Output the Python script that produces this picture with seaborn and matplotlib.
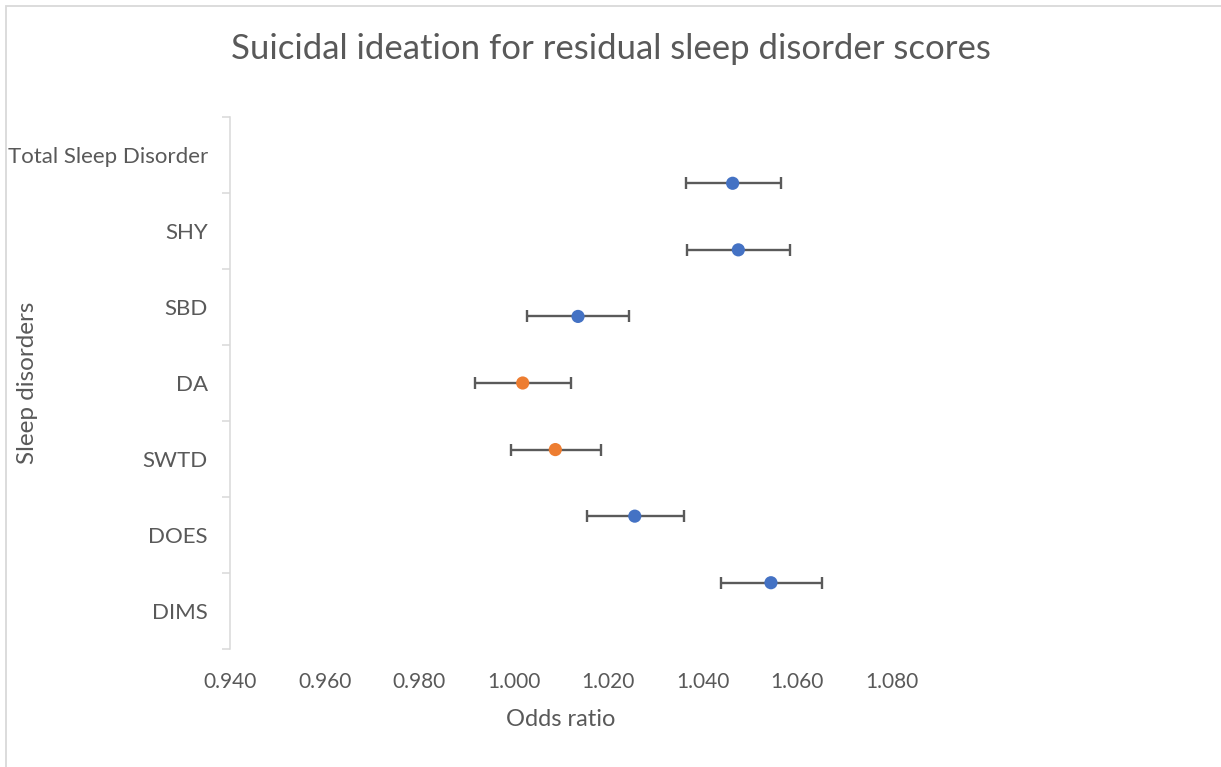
import numpy as np
import pandas as pd
import matplotlib
matplotlib.use("Agg")
import matplotlib.pyplot as plt
import seaborn as sns
from matplotlib.patches import Rectangle

# ---------------- data ----------------
categories = ["Total Sleep Disorder", "SHY", "SBD", "DA", "SWTD", "DOES", "DIMS"]
odds_ratio = [1.0463, 1.0475, 1.0136, 1.0019, 1.0088, 1.0256, 1.0544]
ci_lower = [1.0364, 1.0367, 1.0029, 0.9918, 0.9994, 1.0154, 1.0438]
ci_upper = [1.0566, 1.0585, 1.0244, 1.0122, 1.0185, 1.0360, 1.0653]
significant = ["yes", "yes", "yes", "no", "no", "yes", "yes"]
x_ticks = [0.94, 0.96, 0.98, 1.00, 1.02, 1.04, 1.06, 1.08]
x_tick_labels = ["0.940", "0.960", "0.980", "1.000", "1.020", "1.040", "1.060", "1.080"]

title = "Suicidal ideation for residual sleep disorder scores"
x_label = "Odds ratio"
y_label = "Sleep disorders"

TEXT = "#595959"
AXIS = "#D9D9D9"

sns.set_theme(style="white")
plt.rcParams["font.family"] = ["Lato", "DejaVu Sans"]

W, H = 1221, 767
fig = plt.figure(figsize=(W / 100, H / 100), dpi=100)
ax = fig.add_axes([230 / W, 117.7 / H, 662 / W, 532.6 / H])

n = len(categories)
df = pd.DataFrame({
    "category": categories,
    "odds_ratio": odds_ratio,
    "lower": ci_lower,
    "upper": ci_upper,
    "significant": significant,
    "pos": np.arange(n, 0, -1),
})

# error bars
ax.errorbar(df["odds_ratio"], df["pos"],
            xerr=[df["odds_ratio"] - df["lower"], df["upper"] - df["odds_ratio"]],
            fmt="none", ecolor="#5A5A5A", elinewidth=1.7, capsize=4.5,
            capthick=1.7, zorder=2)

# points
sns.scatterplot(data=df, x="odds_ratio", y="pos", hue="significant",
                palette={"yes": "#4472C4", "no": "#ED7D31"},
                s=90, edgecolor="none", linewidth=0, legend=False,
                zorder=3, ax=ax)

ax.set_xlim(x_ticks[0], x_ticks[-1])
ax.set_ylim(0, n + 1)

# x axis
ax.set_xticks(x_ticks)
ax.set_xticklabels(x_tick_labels)
ax.tick_params(axis="x", length=0, pad=16, labelsize=15, labelcolor=TEXT)

# y axis: category labels between tick marks
bounds = np.linspace(0, n + 1, n + 1)
centers = (bounds[:-1] + bounds[1:]) / 2
ax.set_yticks(centers)
ax.set_yticklabels(categories[::-1])
ax.set_yticks(bounds, minor=True)
ax.tick_params(axis="y", which="major", length=0, pad=16, labelsize=16,
               labelcolor=TEXT)
ax.tick_params(axis="y", which="minor", left=True, length=5.8, width=1.1,
               color=AXIS)

for s in ["top", "right", "bottom"]:
    ax.spines[s].set_visible(False)
ax.spines["left"].set_color(AXIS)
ax.spines["left"].set_linewidth(1.1)
ax.grid(False)

ax.set_xlabel(x_label, fontsize=17, color=TEXT)
ax.xaxis.set_label_coords(0.5, -(720 - 649.3) / 532.6)
ax.xaxis.label.set_va("center")
ax.set_ylabel(y_label, fontsize=17.5, color=TEXT)
ax.yaxis.set_label_coords(-(230 - 28) / 662, 0.5)
ax.yaxis.label.set_va("center")

fig.text(0.5, 1 - 49 / H, title, ha="center", va="center", fontsize=25,
         color=TEXT)

# chart border (partially cropped)
fig.add_artist(Rectangle((6 / W, -0.05), 1.2, 1.05 - 6 / H,
                         transform=fig.transFigure, fill=False,
                         edgecolor=AXIS, linewidth=1.3))

fig.savefig("out.png", dpi=100)
